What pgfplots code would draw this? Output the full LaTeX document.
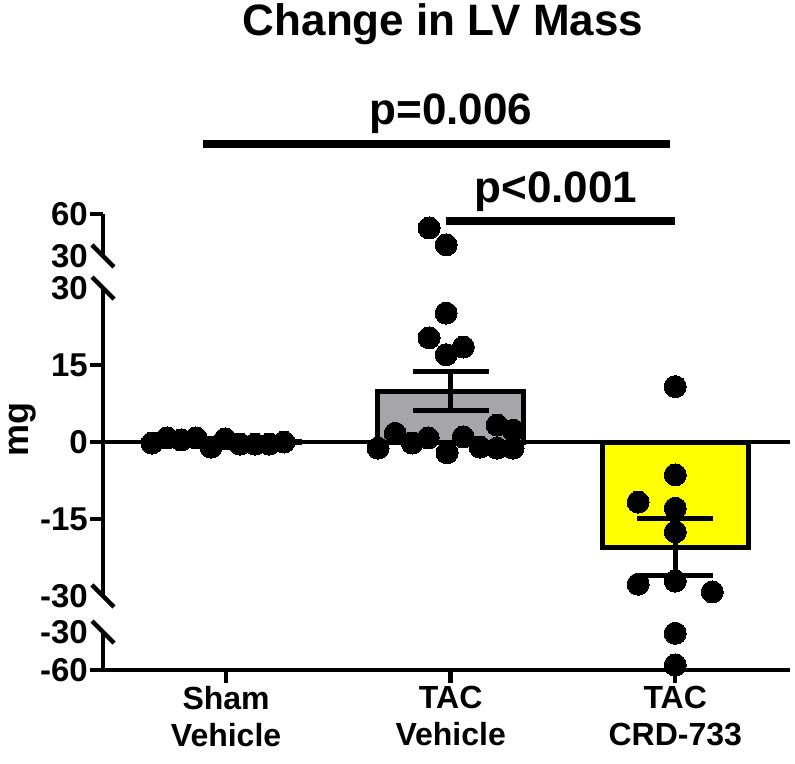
\documentclass[border=0pt]{standalone}
\usepackage{fontspec}
\setmainfont{Liberation Sans}
\usepackage{pgfplots}
\usepackage{pgfplotstable}
\pgfplotsset{compat=1.18}
\definecolor{barGray}{RGB}{166,166,170}
\definecolor{barYellow}{RGB}{255,255,0}

% individual animals: x = group index + jitter offset, y = change in LV mass (mg)
\pgfplotstableread{
x y
-0.330 -0.2
-0.263 0.8
-0.200 0.4
-0.134 0.8
-0.067 -1.0
-0.004 0.6
0.062 -0.4
0.129 -0.4
0.192 -0.4
0.258 0.0
}\sham
\pgfplotstableread{
x y
0.904 50.0
0.980 38.0
0.980 25.1
0.904 20.3
1.056 18.5
0.980 17.0
0.677 -1.2
0.753 1.7
0.829 -0.2
0.900 0.8
0.984 -2.1
1.056 1.0
1.131 -1.0
1.207 3.3
1.207 -1.2
1.278 2.3
1.278 -1.2
}\tacv
\pgfplotstableread{
x y
2.000 10.8
2.000 -6.4
1.835 -11.7
2.000 -12.9
2.000 -17.5
1.835 -27.7
2.000 -27.1
2.165 -29.2
2.000 -31.0
2.000 -56.0
}\crd
% group means and SEM
\pgfplotstableread{
x y e
0 0.1 0.2
1 9.9 3.8
2 -20.5 5.6
}\means

\pgfplotsset{
  brk/.style={
    scale only axis, width=687pt, xmin=-0.548, xmax=2.511,
    clip=false, anchor=south west,
    axis y line*=left,
    axis line style={line width=4.5pt, -},
    tick align=outside, major tick length=13pt,
    tick style={line width=4.5pt, black},
    minor tick num=0,
    yticklabel style={font=\fontsize{33}{35}\selectfont\bfseries, inner sep=2pt},
    xticklabel style={font=\fontsize{32}{37}\selectfont\bfseries, align=center},
    extra y tick style={major tick length=13pt, tick style={draw=none}},
  },
  dots/.style={only marks, mark=*, mark size=11pt, black, mark options={fill=black, draw=black, line width=0pt}},
}

\begin{document}
\begin{tikzpicture}
% middle segment -30..30
\begin{axis}[brk, name=mid, at={(0pt,0pt)}, height=308pt, ymin=-30, ymax=30,
  axis x line=none, ytick={-15,0,15}, yticklabels={-15,0,15},
  extra y ticks={-30,30}, extra y tick labels={-30,30}]
  \draw[line width=4pt] (axis cs:-0.548,0) -- (axis cs:2.511,0);
  \addplot[ybar, bar width=146pt, bar shift=0pt, fill=barGray, draw=black, line width=5pt]
    coordinates {(1,9.9)};
  \addplot[ybar, bar width=146pt, bar shift=0pt, fill=barYellow, draw=black, line width=5pt]
    coordinates {(2,-20.5)};
  \addplot[ybar, bar width=146pt, bar shift=0pt, fill=white, draw=black, line width=5pt]
    coordinates {(0,0.1)};
  \addplot[dots, restrict y to domain=-30:30] table[x=x,y=y] {\sham};
  \addplot[dots, restrict y to domain=-30:30] table[x=x,y=y] {\tacv};
  \addplot[dots, restrict y to domain=-30:30] table[x=x,y=y] {\crd};
  \addplot[draw=none, mark=none, error bars/.cd, y dir=both, y explicit,
    error bar style={line width=5pt, black},
    error mark options={line width=5pt, mark size=38pt, black, rotate=90}]
    table[x=x, y=y, y error=e] {\means};
  \draw[line width=4.5pt] ([shift={(-11pt,11pt)}]axis cs:-0.548,30) -- ([shift={(11pt,-11pt)}]axis cs:-0.548,30);
  \draw[line width=4.5pt] ([shift={(-11pt,11pt)}]axis cs:-0.548,-30) -- ([shift={(11pt,-11pt)}]axis cs:-0.548,-30);
\end{axis}
% top segment 30..60
\begin{axis}[brk, name=top, at={(0pt,340pt)}, height=42pt, ymin=30, ymax=60,
  axis x line=none, ytick={60}, yticklabels={60},
  extra y ticks={30}, extra y tick labels={30}]
  \addplot[dots, restrict y to domain=30:60] table[x=x,y=y] {\tacv};
  \draw[line width=4.5pt] ([shift={(-11pt,11pt)}]axis cs:-0.548,30) -- ([shift={(11pt,-11pt)}]axis cs:-0.548,30);
\end{axis}
% bottom segment -60..-30
\begin{axis}[brk, name=bot, at={(0pt,-74pt)}, height=38pt, ymin=-60, ymax=-30,
  axis x line*=bottom, ytick={-60}, yticklabels={-60},
  extra y ticks={-30}, extra y tick labels={-30},
  xtick={0,1,2}, xticklabels={Sham\\Vehicle, TAC\\Vehicle, TAC\\CRD-733},
  xtick pos=bottom, ytick pos=left]
  \addplot[dots, restrict y to domain=-60:-30] table[x=x,y=y] {\crd};
  \draw[line width=4.5pt] ([shift={(-11pt,11pt)}]axis cs:-0.548,-30) -- ([shift={(11pt,-11pt)}]axis cs:-0.548,-30);
\end{axis}

% annotations (origin = bottom-left corner of middle segment, at pixel (103,596))
\begin{scope}[shift={(-103pt,-167pt)}, x=1pt, y=1pt]
\node[font=\fontsize{36}{38}\selectfont\bfseries, rotate=90, inner sep=0pt] at (23,333) {mg};
\node[font=\fontsize{44}{48}\selectfont\bfseries, anchor=base] at (443,727) {Change in LV Mass};
\draw[line width=8pt] (203,619) -- (670,619);
\node[font=\fontsize{44}{48}\selectfont\bfseries, anchor=base] at (451,638) {p=0.006};
\draw[line width=8pt] (446,542) -- (675,542);
\node[font=\fontsize{44}{48}\selectfont\bfseries, anchor=base] at (556,560) {p<0.001};
\pgfresetboundingbox
\useasboundingbox (0,0) rectangle (795,763);
\end{scope}
\end{tikzpicture}
\end{document}
